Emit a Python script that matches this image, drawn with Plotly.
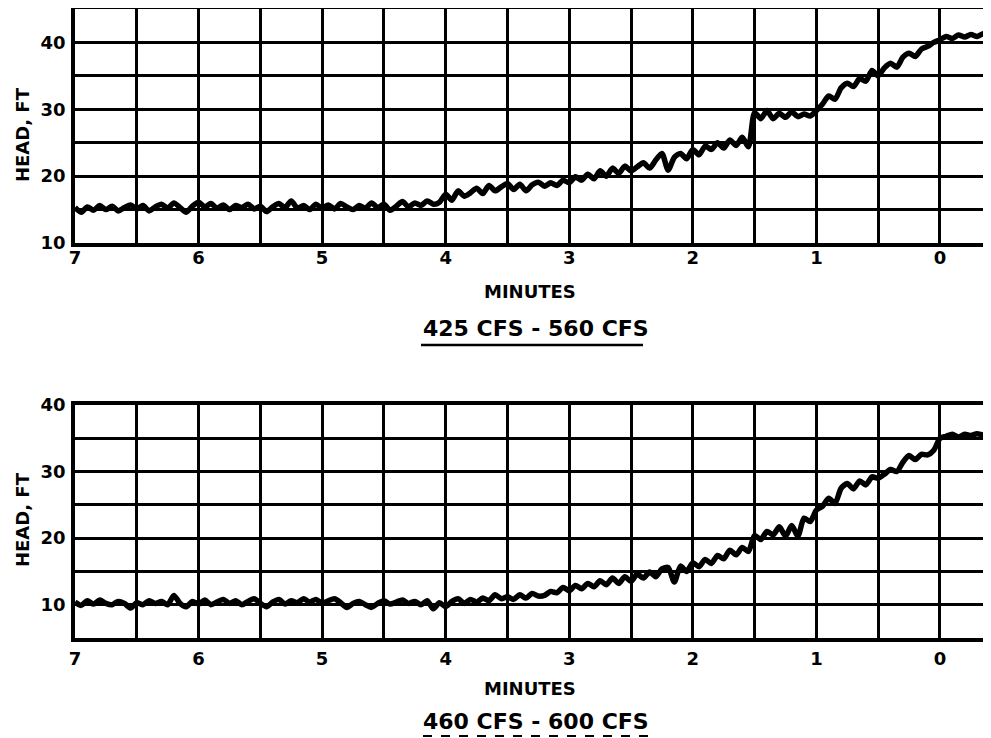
import plotly.graph_objects as go

# time axis (minutes before event), step 0.05 from 7.00 to -0.45
minutes = [round(7.0 - 0.05 * i, 2) for i in range(150)]

head_425_560 = [
    15.3, 14.6, 15.4, 14.9, 15.6, 15.0, 15.5, 14.8, 15.3, 15.7, 15.1, 15.6, 14.8, 15.4,
    15.8, 15.2, 16.0, 15.3, 14.6, 15.5, 16.1, 15.4, 15.9, 15.2, 15.7, 15.0, 15.6, 15.3,
    15.8, 15.1, 15.5, 14.7, 15.4, 15.9, 15.3, 16.3, 15.2, 15.6, 15.0, 15.8, 15.2, 15.7,
    15.1, 15.9, 15.4, 15.0, 15.6, 15.2, 16.0, 15.3, 15.8, 14.9, 15.5, 16.2, 15.4, 16.0,
    15.6, 16.3, 15.8, 16.1, 17.3, 16.4, 17.8, 17.0, 17.5, 18.2, 17.4, 18.6, 17.8, 18.4,
    18.9, 18.0, 18.8, 17.8, 18.7, 19.1, 18.5, 19.0, 18.6, 19.4, 19.0, 19.9, 19.4, 20.3,
    19.6, 20.8, 20.0, 21.2, 20.4, 21.5, 20.8, 21.4, 22.0, 21.2, 22.4, 23.4, 20.9, 22.8,
    23.4, 22.6, 24.0, 23.2, 24.5, 24.0, 25.0, 24.2, 25.4, 24.6, 25.8, 24.4, 29.5, 28.6,
    29.8, 28.6, 29.4, 28.8, 29.6, 28.9, 29.3, 29.0, 29.8, 30.8, 32.0, 31.5, 33.2, 33.9,
    33.4, 34.6, 34.2, 35.8, 35.0, 36.2, 36.9, 36.3, 37.8, 38.4, 37.9, 39.0, 39.4, 40.0,
    40.4, 40.9, 40.6, 41.1, 40.8, 41.2, 40.9, 41.3, 41.0, 41.3,
]

head_460_600 = [
    10.4, 9.9, 10.6, 10.1, 10.7, 10.2, 10.0, 10.5, 10.2, 9.5, 10.3, 10.0, 10.6, 10.2,
    10.5, 10.0, 11.4, 10.2, 9.7, 10.5, 10.1, 10.7, 10.0, 10.4, 10.8, 10.2, 10.6, 10.0,
    10.5, 10.9, 10.2, 9.7, 10.4, 10.8, 10.1, 10.6, 10.3, 10.9, 10.4, 10.8, 10.2, 10.6,
    10.9, 10.3, 9.6, 10.2, 10.5, 10.0, 9.6, 10.2, 10.6, 10.1, 10.4, 10.7, 10.2, 10.5,
    10.0, 10.6, 9.4, 10.3, 9.7, 10.5, 10.9, 10.2, 10.8, 10.4, 11.0, 10.6, 11.5, 10.9,
    11.2, 10.8, 11.5, 11.0, 11.7, 11.3, 11.4, 12.0, 11.8, 12.6, 12.1, 12.9, 12.4, 13.2,
    12.7, 13.6, 13.0, 14.0, 13.2, 14.2, 13.5, 14.6, 14.0, 14.9, 14.2, 15.4, 15.6, 13.4,
    15.8, 15.0, 16.3, 15.7, 16.8, 16.2, 17.4, 16.9, 18.2, 17.5, 18.6, 18.0, 20.4, 19.8,
    21.0, 20.5, 21.7, 20.3, 21.9, 20.3, 23.0, 22.5, 24.2, 24.8, 26.0, 25.2, 27.5, 28.2,
    27.4, 28.6, 28.0, 29.2, 29.0, 29.6, 30.3, 30.0, 31.4, 32.4, 31.8, 32.6, 32.5, 33.2,
    35.0, 35.3, 35.6, 35.2, 35.6, 35.4, 35.7, 35.5, 35.6, 35.4,
]

x_tick_vals = [7, 6, 5, 4, 3, 2, 1, 0]
x_tick_text = ["7", "6", "5", "4", "3", "2", "1", "0"]
y_tick_vals = [10, 20, 30, 40]
y_tick_text = ["10", "20", "30", "40"]
top_title = "425 CFS - 560 CFS"
bottom_title = "460 CFS - 600 CFS"
x_label = "MINUTES"
y_label = "HEAD, FT"

FONT = "DejaVu Sans"
OFF = 8            # page body margin in the browser
W, H = 991 - OFF, 738 - OFF


def py(pix):
    return (H - (pix - OFF)) / H


def px(pix):
    return (pix - OFF) / W


fig = go.Figure()
line_style = dict(color="black", width=5.5, shape="spline", smoothing=0.7)
fig.add_trace(go.Scatter(x=minutes, y=head_425_560, mode="lines", line=line_style,
                         xaxis="x", yaxis="y", showlegend=False))
fig.add_trace(go.Scatter(x=minutes, y=head_460_600, mode="lines", line=line_style,
                         xaxis="x2", yaxis="y2", showlegend=False))

xcommon = dict(
    range=[7, -0.413], tickmode="array", tickvals=x_tick_vals, ticktext=x_tick_text,
    showgrid=True, gridcolor="black", gridwidth=2.5,
    minor=dict(tick0=0, dtick=0.5, showgrid=True, gridcolor="black", gridwidth=2.5, ticklen=0),
    showline=True, linecolor="black", linewidth=3.5, mirror=True,
    ticks="", zeroline=False, automargin=False,
    tickfont=dict(family=FONT, size=18, color="black", weight="bold"),
    domain=[px(75), 1.0],
)
ycommon = dict(
    tickmode="array", tickvals=y_tick_vals, ticktext=y_tick_text,
    showgrid=True, gridcolor="black", gridwidth=2.5,
    minor=dict(tick0=0, dtick=5, showgrid=True, gridcolor="black", gridwidth=2.5, ticklen=0),
    showline=True, linecolor="black", linewidth=3.5, mirror=True,
    ticks="", zeroline=False, automargin=False,
    tickfont=dict(family=FONT, size=18, color="black", weight="bold"),
    ticklabelstandoff=2,
)

fig.update_layout(
    width=W, height=H,
    margin=dict(l=0, r=0, t=0, b=0, autoexpand=False),
    paper_bgcolor="white", plot_bgcolor="white",
    xaxis=dict(**xcommon, anchor="y", ticklabelstandoff=-4),
    yaxis=dict(**ycommon, range=[10, 45], domain=[py(243), py(9)], anchor="x"),
    xaxis2=dict(**xcommon, anchor="y2", ticklabelstandoff=2),
    yaxis2=dict(**ycommon, range=[5, 40], domain=[py(638), py(405)], anchor="x2"),
)

annots = [
    dict(text=x_label, x=px(530), y=py(292), size=18),
    dict(text=top_title, x=px(536), y=py(328), size=22),
    dict(text=x_label, x=px(530), y=py(688), size=18),
    dict(text=bottom_title, x=px(536), y=py(721), size=22),
]
for a in annots:
    fig.add_annotation(text=a["text"], x=a["x"], y=a["y"], xref="paper", yref="paper",
                       showarrow=False, xanchor="center", yanchor="middle",
                       font=dict(family=FONT, size=a["size"], color="black", weight="bold"))
for yc in (135, 520):
    fig.add_annotation(text=y_label, x=px(22), y=py(yc), xref="paper", yref="paper",
                       showarrow=False, textangle=-90, xanchor="center", yanchor="middle",
                       font=dict(family=FONT, size=18, color="black", weight="bold"))

fig.add_shape(type="line", xref="paper", yref="paper", x0=px(421), x1=px(643),
              y0=py(345), y1=py(345), line=dict(color="black", width=2.5))
fig.add_shape(type="line", xref="paper", yref="paper", x0=px(423), x1=px(650),
              y0=py(736), y1=py(736), line=dict(color="black", width=2, dash="dash"))

fig.write_html("out.html")
